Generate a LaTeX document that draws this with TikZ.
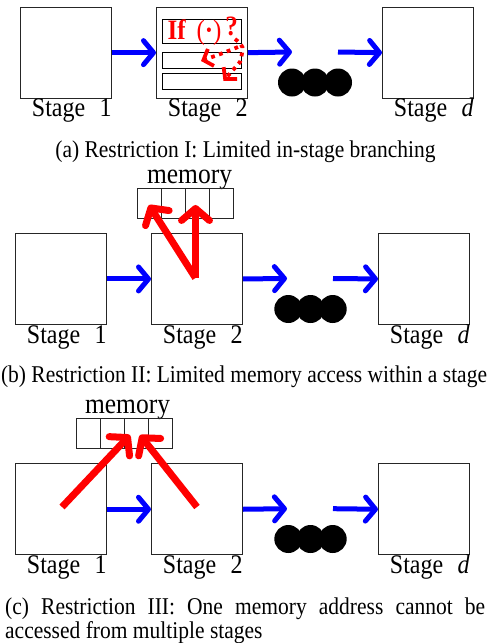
\documentclass[tikz,border=0pt]{standalone}
\usepackage{graphicx}
\usepackage{fontspec}
\setmainfont{Liberation Serif}
\usetikzlibrary{arrows.meta}
\newcommand{\tallt}[1]{\scalebox{1}[1.12]{#1}}
\begin{document}
\begin{tikzpicture}[x=1pt,y=-1pt,
  stagebox/.style={draw=black!85, line width=0.9pt, minimum width=91pt, minimum height=91pt, inner sep=0pt, anchor=north west},
  rowbox/.style={draw=black, line width=0.9pt, anchor=north west, inner sep=0pt},
  cell/.style={draw=black!85, line width=0.8pt, minimum width=24pt, minimum height=30pt, inner sep=0pt, anchor=north west},
  stagelabel/.style={anchor=base east, inner sep=0pt, font=\fontsize{24}{28}\selectfont},
  memlabel/.style={anchor=base, inner sep=0pt, font=\fontsize{25.5}{30}\selectfont},
  captext/.style={anchor=base, inner sep=0pt, font=\fontsize{21.5}{25}\selectfont},
  flow/.style={draw=blue, line width=5pt, -{Straight Barb[length=10pt,width=24pt,line width=5pt,round]}},
  access/.style={draw=red, line width=7pt, -{Straight Barb[length=12pt,width=28pt,line width=7pt,round]}},
  branch/.style={draw=red, line width=3.8pt, dash pattern=on 3.8pt off 4.5pt, -{Straight Barb[length=8pt,width=18pt,line width=3.8pt]}},
  dotc/.style={circle, fill=black, minimum size=28pt, inner sep=0pt}]
\useasboundingbox (0,0) rectangle (487,643);

% ---------------- (a) ----------------
\node[stagebox] (a1) at (20,6.7) {};
\node[stagebox] (a2) at (156,6.7) {};
\node[stagebox] (ad) at (382,6.7) {};
\node[rowbox, minimum width=78.5pt, minimum height=23.7pt] (ar1) at (162.3,19) {};
\node[rowbox, minimum width=78.5pt, minimum height=15.4pt] (ar2) at (162.3,52.3) {};
\node[rowbox, minimum width=78.5pt, minimum height=15.7pt] (ar3) at (162.3,73) {};
\node[anchor=base west, inner sep=0pt, text=red, font=\fontsize{25}{30}\selectfont] (aif) at (167.5,39.5) {\tallt{\textbf{If}\hspace{0.42em}(\textbf{·})}};
\node[inner sep=0pt, text=red, font=\bfseries\fontsize{25}{30}\selectfont] (aq) at (231.5,26) {\tallt{?}};
\coordinate (aqs) at (235,39);
\coordinate (abr) at (238,47);
\coordinate (al) at (201,61);
\coordinate (ad3) at (223.5,81);
\draw[branch] (aqs) .. controls (244,46) .. (240,62) -- (ad3);
\draw[branch] (abr) .. controls (226,52) .. (al);
\node[dotc] (ad1) at (292,82.5) {};
\node[dotc] (ad2) at (315,82.5) {};
\node[dotc] (ad3c) at (338,82.5) {};
\coordinate (aend) at (292,52);
\coordinate (astart) at (338,52);
\draw[flow] (a1.east) -- (a2.west);
\draw[flow] (a2.east) -- (aend);
\draw[flow] (astart) -- (ad.west);
\node[stagelabel] (a1l) at ([yshift=-18pt]a1.south east) {\tallt{Stage\hspace{0.6em}1}};
\node[stagelabel] (a2l) at ([yshift=-18pt]a2.south east) {\tallt{Stage\hspace{0.6em}2}};
\node[stagelabel] (adl) at ([yshift=-18pt]ad.south east) {\tallt{Stage\hspace{0.6em}\textit{d}}};
\node[captext] (acap) at (245.5,157) {\tallt{(a) Restriction I: Limited in-stage branching}};

% ---------------- (b) ----------------
\node[memlabel] (bml) at (189.5,183) {\tallt{memory}};
\node[cell] (bc1) at (137,188) {};
\node[cell] (bc2) at (161,188) {};
\node[cell] (bc3) at (185,188) {};
\node[cell] (bc4) at (209,188) {};
\node[stagebox] (b1) at (15,233) {};
\node[stagebox] (b2) at (151,233) {};
\node[stagebox] (bd) at (378,233) {};
\node[dotc] (bd1) at (288.3,309) {};
\node[dotc] (bd2) at (310.5,309) {};
\node[dotc] (bd3) at (332.7,309) {};
\coordinate (bend) at (287,278.5);
\coordinate (bstart) at (333,278.5);
\draw[flow] (b1.east) -- (b2.west);
\draw[flow] (b2.east) -- (bend);
\draw[flow] (bstart) -- (bd.west);
\coordinate (bsrc) at (195.5,278);
\coordinate (bt1) at (149,205);
\coordinate (bt3) at (195.5,205);
\draw[access] (bsrc) -- (bt1);
\draw[access] (bsrc) -- (bt3);
\node[stagelabel] (b1l) at ([yshift=-18.5pt]b1.south east) {\tallt{Stage\hspace{0.6em}1}};
\node[stagelabel] (b2l) at ([yshift=-18.5pt]b2.south east) {\tallt{Stage\hspace{0.6em}2}};
\node[stagelabel] (bdl) at ([yshift=-18.5pt]bd.south east) {\tallt{Stage\hspace{0.6em}\textit{d}}};
\node[captext] (bcap) at (244,382.5) {\tallt{(b) Restriction II: Limited memory access within a stage}};

% ---------------- (c) ----------------
\node[memlabel] (cml) at (127.5,413) {\tallt{memory}};
\node[cell] (cc1) at (76,418) {};
\node[cell] (cc2) at (100,418) {};
\node[cell] (cc3) at (124,418) {};
\node[cell] (cc4) at (148,418) {};
\node[stagebox] (c1) at (15,463.3) {};
\node[stagebox] (c2) at (151,463.3) {};
\node[stagebox] (cd) at (378,463.3) {};
\node[dotc] (cd1) at (288.3,539) {};
\node[dotc] (cd2) at (310.5,539) {};
\node[dotc] (cd3) at (332.7,539) {};
\coordinate (cend) at (287,508.7);
\coordinate (cstart) at (333,508.7);
\draw[flow] (c1.east) -- (c2.west);
\draw[flow] (c2.east) -- (cend);
\draw[flow] (cstart) -- (cd.west);
\coordinate (csrc1) at (62,507);
\coordinate (csrc2) at (197,507);
\coordinate (ct1) at (130,435);
\coordinate (ct2) at (140,435);
\draw[access] (csrc1) -- (ct1);
\draw[access] (csrc2) -- (ct2);
\node[stagelabel] (c1l) at ([yshift=-18.5pt]c1.south east) {\tallt{Stage\hspace{0.6em}1}};
\node[stagelabel] (c2l) at ([yshift=-18.5pt]c2.south east) {\tallt{Stage\hspace{0.6em}2}};
\node[stagelabel] (cdl) at ([yshift=-18.5pt]cd.south east) {\tallt{Stage\hspace{0.6em}\textit{d}}};
\node[captext, anchor=base west] (ccap1) at (5,614) {\tallt{\makebox[480pt][s]{(c) Restriction III: One memory address cannot be}}};
\node[captext, anchor=base west] (ccap2) at (5,638) {\tallt{accessed from multiple stages}};
\end{tikzpicture}
\end{document}
